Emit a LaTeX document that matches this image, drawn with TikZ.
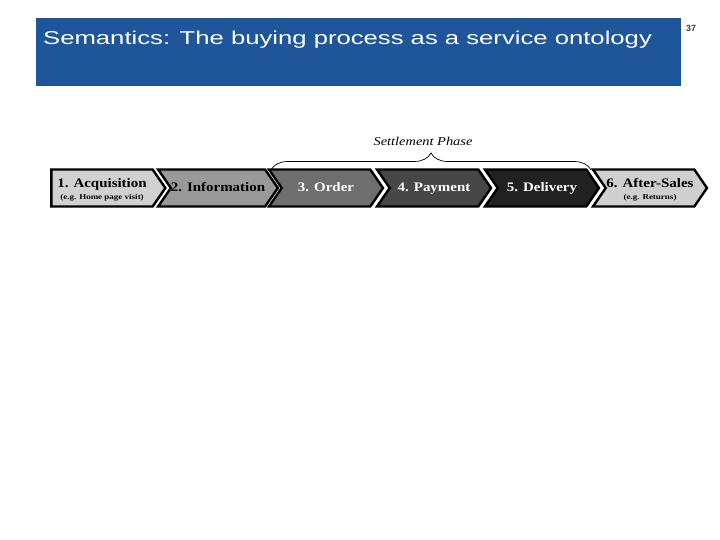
\documentclass[tikz,border=0pt]{standalone}
\usepackage{fontspec}
\setmainfont{Liberation Serif}
\newfontfamily\titlefont{Liberation Sans}
\usepackage{xcolor}
\usetikzlibrary{shapes.symbols,decorations.pathreplacing}
\definecolor{slideblue}{HTML}{1F5599}
\newcommand{\stagename}[1]{\scalebox{1.15}[1]{#1}}
\newcommand{\stagenote}[1]{{\fontsize{7.5}{8}\selectfont\scalebox{1.2}[1]{#1}}}

\begin{document}
\begin{tikzpicture}[
  x=1pt, y=-1pt,
  stage/.style={signal, signal to=east, signal from=west, signal pointer angle=111,
    draw=black, line width=2.4pt, minimum width=114pt, minimum height=37pt,
    inner sep=0pt, align=center, text height=9pt, text depth=2.5pt,
    font=\bfseries\fontsize{13}{13}\selectfont},
  first/.style={stage, signal from=nowhere},
  twoline/.style={text height=24pt, text depth=1pt},
  dark/.style={text=white}]
\useasboundingbox (0,0) rectangle (720,540);
% ---------------- title bar ----------------
\node[fill=slideblue, minimum width=645pt, minimum height=68pt, inner sep=0pt, anchor=north west] (bar) at (36,18) {};
\node[anchor=base west, inner sep=0pt, text=white, font=\titlefont\fontsize{18.6}{20}\selectfont] (title) at (43,45) {\scalebox{1.38}[1]{Semantics: The buying process as a service ontology}};
\node[inner sep=0pt, font=\titlefont\bfseries\fontsize{9}{10}\selectfont, text=black!75] (page) at (691,28) {37};
% ---------------- buying process ----------------
\node[first, twoline, fill=black!18] (acq) at (102,188) {\stagename{1. Acquisition}\\[-1pt]\stagenote{(e.g. Home page visit)}};
\node[stage, fill=black!40] (info) at (218,188) {\stagename{2. Information}};
\node[stage, fill=black!57, dark] (order) at (326,188) {\stagename{3. Order}};
\node[stage, fill=black!72, dark] (pay) at (434,188) {\stagename{4. Payment}};
\node[stage, fill=black!87, dark] (deliv) at (542,188) {\stagename{5. Delivery}};
\node[stage, twoline, fill=black!19] (after) at (650,188) {\stagename{6. After-Sales}\\[-1pt]\stagenote{(e.g. Returns)}};
% ---------------- settlement brace ----------------
\coordinate (bl) at (271,170);
\coordinate (br) at (591,170);
\draw[decorate, decoration={brace, amplitude=17pt}, line width=0.7pt] (bl) -- (br);
\node[font=\itshape\fontsize{12}{13}\selectfont] (phase) at (423,141) {\scalebox{1.2}[1]{Settlement Phase}};
\end{tikzpicture}
\end{document}
